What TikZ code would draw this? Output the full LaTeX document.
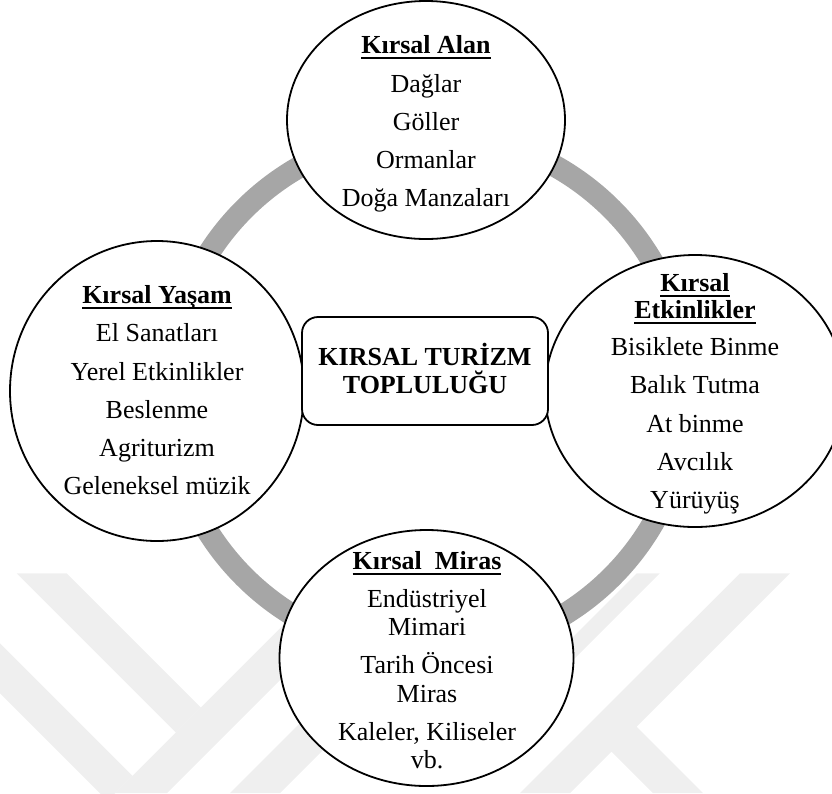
\documentclass[tikz,border=0pt]{standalone}
\usepackage{fontspec}
\setmainfont{Liberation Serif}
\usetikzlibrary{shapes.geometric}
\definecolor{ringgray}{RGB}{166,166,166}
\definecolor{wmgray}{RGB}{239,239,239}
\newsavebox{\ulsave}
\newcommand{\ulbox}[1]{\sbox{\ulsave}{#1}\rlap{\rule[-5.5pt]{\wd\ulsave}{1.6pt}}\usebox{\ulsave}}
\begin{document}
\begin{tikzpicture}[x=1pt,y=-1pt,
  ell/.style={ellipse, draw=black, line width=1.8pt, fill=white, inner sep=0pt},
  txt/.style={anchor=base, inner sep=0pt, font=\fontsize{26}{30}\selectfont},
  hd/.style={anchor=base, inner sep=0pt, font=\fontsize{26}{30}\selectfont\bfseries},
  wm/.style={fill=wmgray, draw=none},
  ring/.style={draw=ringgray, line width=22pt}]
\useasboundingbox (0,0) rectangle (832,793);
% faint watermark
\fill[wm] (16.7,573.3) -- (66.7,573.3) -- (200.8,707.5) -- (175.8,732.5) -- cycle;
\fill[wm] (0,643.3) -- (0,693.3) -- (107.5,800.8) -- (132.5,775.8) -- cycle;
\fill[wm] (115.3,793) -- (167,793) -- (360,600) -- (308.3,600) -- cycle;
\fill[wm] (230,793) -- (280,793) -- (373,700) -- (323,700) -- cycle;
\fill[wm] (740,573.3) -- (790,573.3) -- (636.7,726.7) -- (703,793) -- (653,793) -- (611.5,751.5) -- (570,793) -- (520,793) -- cycle;
\fill[wm] (636.7,573.3) -- (659.7,573.3) -- (543,690) -- (520,690) -- cycle;
% ring
\draw[ring] (428,393) circle[radius=260];
% ellipses
\node[ell, minimum width=278pt, minimum height=238pt] (alan) at (426,120) {};
\node[ell, minimum width=294pt, minimum height=300pt] (yasam) at (157,391) {};
\node[ell, minimum width=300pt, minimum height=272pt] (etk) at (695,391) {};
\node[ell, minimum width=294pt, minimum height=256pt] (miras) at (426.5,658) {};
\node[draw=black, line width=1.8pt, fill=white, rounded corners=16pt, minimum width=246pt, minimum height=108pt, inner sep=0pt] (core) at (425,371) {};
% top texts
\node[hd] (a0) at (426,53) {\ulbox{Kırsal Alan}};
\node[txt] (a1) at (426,92) {Dağlar};
\node[txt] (a2) at (426,130) {Göller};
\node[txt] (a3) at (426,168) {Ormanlar};
\node[txt] (a4) at (426,206) {Doğa Manzaları};
% left texts
\node[hd] (y0) at (157,303) {\ulbox{Kırsal Yaşam}};
\node[txt] (y1) at (157,341) {El Sanatları};
\node[txt] (y2) at (157,380) {Yerel Etkinlikler};
\node[txt] (y3) at (157,418) {Beslenme};
\node[txt] (y4) at (157,456) {Agriturizm};
\node[txt] (y5) at (157,494) {Geleneksel müzik};
% right texts
\node[hd] (e0) at (695,291) {\ulbox{Kırsal}};
\node[hd] (e1) at (695,318) {\ulbox{Etkinlikler}};
\node[txt] (e2) at (695,355) {Bisiklete Binme};
\node[txt] (e3) at (695,393) {Balık Tutma};
\node[txt] (e4) at (695,432) {At binme};
\node[txt] (e5) at (695,470) {Avcılık};
\node[txt] (e6) at (695,508) {Yürüyüş};
% bottom texts
\node[hd] (m0) at (427,569) {\ulbox{Kırsal\ \ Miras}};
\node[txt] (m1) at (427,607) {Endüstriyel};
\node[txt] (m2) at (427,635) {Mimari};
\node[txt] (m3) at (427,673) {Tarih Öncesi};
\node[txt] (m4) at (427,702) {Miras};
\node[txt] (m5) at (427,740) {Kaleler, Kiliseler};
\node[txt] (m6) at (427,768) {vb.};
% center texts
\node[hd] (c0) at (425,365) {KIRSAL TURİZM};
\node[hd] (c1) at (425,393) {TOPLULUĞU};
\end{tikzpicture}
\end{document}
